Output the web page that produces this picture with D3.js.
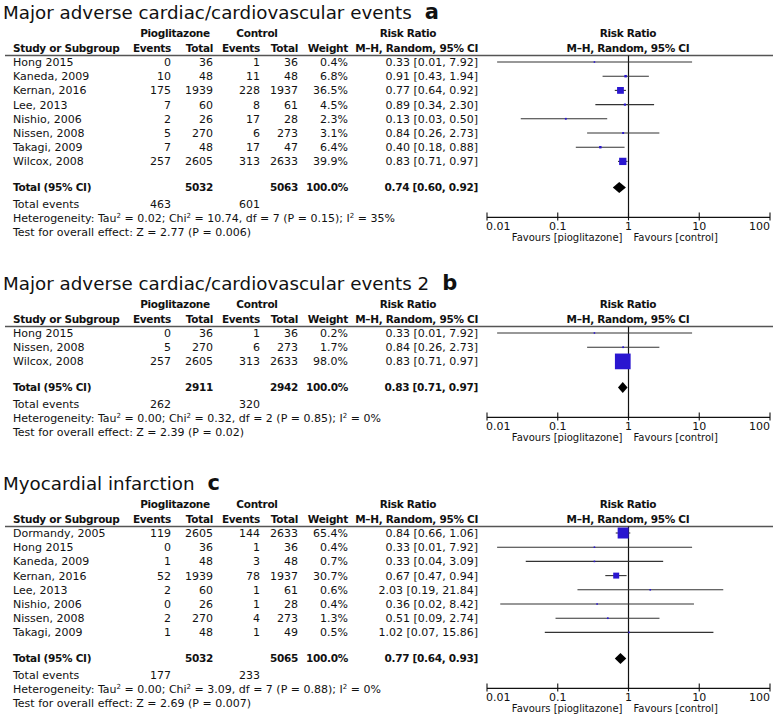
<!DOCTYPE html>
<html><head><meta charset="utf-8">
<script src="https://cdn.jsdelivr.net/npm/d3@7"></script>
<style>
body{margin:0;background:#fff}
svg{display:block}
text{font-family:"DejaVu Sans",sans-serif;fill:#111}
</style>
</head><body>
<svg id="chart" width="780" height="725"></svg>
<script>
// ---------- Panel a ----------
const aTitle = "Major adverse cardiac/cardiovascular events";
const aStudies = ["Hong 2015","Kaneda, 2009","Kernan, 2016","Lee, 2013","Nishio, 2006","Nissen, 2008","Takagi, 2009","Wilcox, 2008"];
const aPioEvents = [0,10,175,7,2,5,7,257];
const aPioTotal = [36,48,1939,60,26,270,48,2605];
const aCtlEvents = [1,11,228,8,17,6,17,313];
const aCtlTotal = [36,48,1937,61,28,273,47,2633];
const aWeight = [0.4,6.8,36.5,4.5,2.3,3.1,6.4,39.9];
const aRR = [0.33,0.91,0.77,0.89,0.13,0.84,0.40,0.83];
const aLo = [0.0139,0.43,0.64,0.34,0.03,0.26,0.18,0.71];
const aHi = [7.92,1.94,0.92,2.30,0.50,2.73,0.88,0.97];
const aTotals = [5032,5063];
const aTotalEvents = [463,601];
const aPooled = [0.74,0.60,0.92];
const aHet = ["0.02","10.74","7","0.15","35%"];
const aTest = "Z = 2.77 (P = 0.006)";

// ---------- Panel b ----------
const bTitle = "Major adverse cardiac/cardiovascular events 2";
const bStudies = ["Hong 2015","Nissen, 2008","Wilcox, 2008"];
const bPioEvents = [0,5,257];
const bPioTotal = [36,270,2605];
const bCtlEvents = [1,6,313];
const bCtlTotal = [36,273,2633];
const bWeight = [0.2,1.7,98.0];
const bRR = [0.33,0.84,0.83];
const bLo = [0.0139,0.26,0.71];
const bHi = [7.92,2.73,0.97];
const bTotals = [2911,2942];
const bTotalEvents = [262,320];
const bPooled = [0.83,0.71,0.97];
const bHet = ["0.00","0.32","2","0.85","0%"];
const bTest = "Z = 2.39 (P = 0.02)";

// ---------- Panel c ----------
const cTitle = "Myocardial infarction";
const cStudies = ["Dormandy, 2005","Hong 2015","Kaneda, 2009","Kernan, 2016","Lee, 2013","Nishio, 2006","Nissen, 2008","Takagi, 2009"];
const cPioEvents = [119,0,1,52,2,0,2,1];
const cPioTotal = [2605,36,48,1939,60,26,270,48];
const cCtlEvents = [144,1,3,78,1,1,4,1];
const cCtlTotal = [2633,36,48,1937,61,28,273,49];
const cWeight = [65.4,0.4,0.7,30.7,0.6,0.4,1.3,0.5];
const cRR = [0.84,0.33,0.33,0.67,2.03,0.36,0.51,1.02];
const cLo = [0.66,0.0139,0.0353,0.47,0.19,0.0154,0.093,0.0656];
const cHi = [1.06,7.92,3.09,0.94,21.84,8.42,2.74,15.86];
const cTotals = [5032,5065];
const cTotalEvents = [177,233];
const cPooled = [0.77,0.64,0.93];
const cHet = ["0.00","3.09","7","0.88","0%"];
const cTest = "Z = 2.69 (P = 0.007)";

// ---------- axis ----------
const axisTicks = [0.01,0.1,1,10,100];
const tickLabels = ["0.01","0.1","1","10","100"];
const favourLabels = ["Favours [pioglitazone]","Favours [control]"];

const panels = [
  {title:aTitle, letter:"a", top:0, studies:aStudies, pe:aPioEvents, pt:aPioTotal, ce:aCtlEvents, ct:aCtlTotal, w:aWeight, rr:aRR, lo:aLo, hi:aHi, tot:aTotals, ev:aTotalEvents, pooled:aPooled, het:aHet, test:aTest},
  {title:bTitle, letter:"b", top:271, studies:bStudies, pe:bPioEvents, pt:bPioTotal, ce:bCtlEvents, ct:bCtlTotal, w:bWeight, rr:bRR, lo:bLo, hi:bHi, tot:bTotals, ev:bTotalEvents, pooled:bPooled, het:bHet, test:bTest},
  {title:cTitle, letter:"c", top:471, studies:cStudies, pe:cPioEvents, pt:cPioTotal, ce:cCtlEvents, ct:cCtlTotal, w:cWeight, rr:cRR, lo:cLo, hi:cHi, tot:cTotals, ev:cTotalEvents, pooled:cPooled, het:cHet, test:cTest}
];

const svg = d3.select("#chart");
const f2 = d3.format(".2f");
const f1 = d3.format(".1f");
const FS = 11;
const col = {study:13, pe:171, pt:213, ce:260, ct:298, w:348, ci:478};
const x = d3.scaleLog().domain([0.01,100]).range([487,770]);
const boxSize = d3.scaleLinear().domain([0,100]).range([1.5,16]);
const BLUE = "#2a16d0";

function txt(g, s, xx, yy, anchor, bold, size){
  const t = g.append("text").attr("x",xx).attr("y",yy)
    .attr("text-anchor",anchor||"start")
    .attr("font-weight",bold?"bold":"normal")
    .attr("font-size",size||(bold?10.5:FS)).text(s);
  if(bold) t.attr("letter-spacing",-0.3);
  return t;
}

panels.forEach(p => {
  const g = svg.append("g");
  const o = p.top;
  const n = p.studies.length;
  const y = d3.scaleLinear().domain([0,n-1]).range([o+62, o+62+14.2*(n-1)]);
  const yTotal = y(n-1)+26;
  const yEv = yTotal+17, yHet = yEv+14, yTest = yHet+14;
  const yAxis = yTotal+30;
  const B = 4; // baseline shift from row centre

  // title
  const t = g.append("text").attr("x",3).attr("y",o+19).attr("font-size",18.3).text(p.title);
  const tw = t.node().getComputedTextLength();
  g.append("text").attr("x",3+tw+13).attr("y",o+19)
    .attr("font-family","Liberation Sans, Arial, sans-serif")
    .attr("font-weight","bold").attr("font-size",21).text(p.letter);

  // headers
  txt(g,"Pioglitazone",175,o+37,"middle",true);
  txt(g,"Control",257,o+37,"middle",true);
  txt(g,"Risk Ratio",408,o+37,"middle",true);
  txt(g,"Risk Ratio",628,o+37,"middle",true);
  txt(g,"Study or Subgroup",col.study,o+52,"start",true);
  txt(g,"Events",col.pe,o+52,"end",true);
  txt(g,"Total",col.pt,o+52,"end",true);
  txt(g,"Events",col.ce,o+52,"end",true);
  txt(g,"Total",col.ct,o+52,"end",true);
  txt(g,"Weight",col.w,o+52,"end",true);
  txt(g,"M\u2013H, Random, 95% CI",col.ci,o+52,"end",true);
  txt(g,"M\u2013H, Random, 95% CI",628,o+52,"middle",true);

  g.append("line").attr("x1",5).attr("x2",773).attr("y1",o+55.5).attr("y2",o+55.5)
    .attr("stroke","#555").attr("stroke-width",1.6);

  // rows
  p.studies.forEach((s,i) => {
    const yy = y(i)+B;
    txt(g,s,col.study,yy);
    txt(g,p.pe[i],col.pe,yy,"end");
    txt(g,p.pt[i],col.pt,yy,"end");
    txt(g,p.ce[i],col.ce,yy,"end");
    txt(g,p.ct[i],col.ct,yy,"end");
    txt(g,f1(p.w[i])+"%",col.w,yy,"end");
    txt(g,`${f2(p.rr[i])} [${f2(p.lo[i])}, ${f2(p.hi[i])}]`,col.ci,yy,"end");
  });

  // totals
  txt(g,"Total (95% CI)",col.study,yTotal+B,"start",true);
  txt(g,p.tot[0],col.pt,yTotal+B,"end",true);
  txt(g,p.tot[1],col.ct,yTotal+B,"end",true);
  txt(g,"100.0%",col.w,yTotal+B,"end",true);
  txt(g,`${f2(p.pooled[0])} [${f2(p.pooled[1])}, ${f2(p.pooled[2])}]`,col.ci,yTotal+B,"end",true);
  txt(g,"Total events",col.study,yEv+B);
  txt(g,p.ev[0],col.pe,yEv+B,"end");
  txt(g,p.ev[1],col.ce,yEv+B,"end");
  const het = txt(g,"",col.study,yHet+B);
  const parts = [["Heterogeneity: Tau",false],["2",true],[" = "+p.het[0]+"; Chi",false],["2",true],[" = "+p.het[1]+", df = "+p.het[2]+" (P = "+p.het[3]+"); I",false],["2",true],[" = "+p.het[4],false]];
  parts.forEach(([s,sup],k) => {
    const ts = het.append("tspan").text(s);
    if(sup){ ts.attr("font-size",7).attr("dy",-4); }
    else if(k>0) { ts.attr("dy",4); }
  });
  txt(g,"Test for overall effect: "+p.test,col.study,yTest+B);

  // plot: reference line
  g.append("line").attr("x1",x(1)).attr("x2",x(1)).attr("y1",o+55.5).attr("y2",yAxis)
    .attr("stroke","#111").attr("stroke-width",1.2);

  // CIs and boxes
  p.studies.forEach((s,i) => {
    const yy = y(i);
    g.append("line").attr("x1",x(p.lo[i])).attr("x2",x(p.hi[i])).attr("y1",yy).attr("y2",yy)
      .attr("stroke","#333").attr("stroke-width",1.1);
    const sz = boxSize(p.w[i]);
    g.append("rect").attr("x",x(p.rr[i])-sz/2).attr("y",yy-sz/2).attr("width",sz).attr("height",sz)
      .attr("fill",BLUE);
  });

  // diamond
  const [pm,pl,ph] = p.pooled;
  g.append("path").attr("d",`M${x(pl)},${yTotal}L${x(pm)},${yTotal-5.5}L${x(ph)},${yTotal}L${x(pm)},${yTotal+5.5}Z`)
    .attr("fill","#000");

  // axis
  g.append("line").attr("x1",x(0.01)).attr("x2",x(100)).attr("y1",yAxis).attr("y2",yAxis)
    .attr("stroke","#111").attr("stroke-width",1.1);
  axisTicks.forEach((tv,i) => {
    g.append("line").attr("x1",x(tv)).attr("x2",x(tv)).attr("y1",yAxis-5).attr("y2",yAxis+3)
      .attr("stroke","#111").attr("stroke-width",1.1);
    const anchor = i===0 ? "start" : (i===axisTicks.length-1 ? "end" : "middle");
    txt(g,tickLabels[i],x(tv)+(i===0?-1:0),yAxis+13,anchor);
  });
  txt(g,favourLabels[0],x(1)-6,yAxis+24,"end",false,10);
  txt(g,favourLabels[1],x(1)+5,yAxis+24,"start",false,10);
});
</script>
</body></html>
